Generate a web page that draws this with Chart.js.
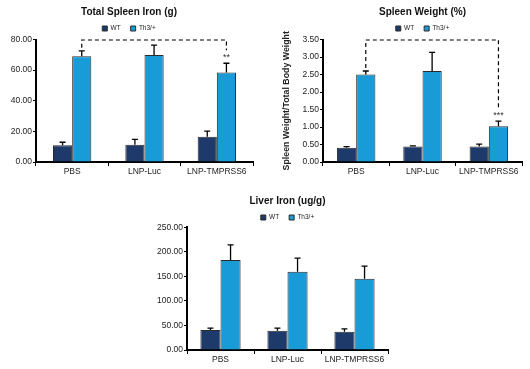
<!DOCTYPE html>
<html>
<head>
<meta charset="utf-8">
<script src="https://cdn.jsdelivr.net/npm/chart.js@4"></script>
<style>
  html, body { margin: 0; padding: 0; background: #fff; overflow: hidden; }
  body { width: 530px; height: 369px; position: relative; }
  canvas { position: absolute; }
</style>
</head>
<body>
<canvas id="c1" width="250" height="180" style="left:5px;top:0px"></canvas>
<canvas id="c2" width="265" height="180" style="left:265px;top:0px"></canvas>
<canvas id="c3" width="260" height="184" style="left:150px;top:185px"></canvas>
<script>
const groups = ['PBS', 'LNP-Luc', 'LNP-TMPRSS6'];
const seriesNames = ['WT', 'Th3/+'];

// Total spleen iron (g)
const spleenIronWT = [10.9, 11.3, 16.5];
const spleenIronTh3 = [69.1, 69.8, 58.5];
const spleenIronErrWT = [2.0, 3.5, 3.7];
const spleenIronErrTh3 = [3.5, 6.5, 6.0];

// Spleen weight (%)
const spleenWtWT = [0.41, 0.44, 0.44];
const spleenWtTh3 = [2.50, 2.60, 1.02];
const spleenWtErrWT = [0.03, 0.02, 0.07];
const spleenWtErrTh3 = [0.10, 0.53, 0.15];

// Liver iron (ug/g)
const liverWT = [40.5, 39.0, 37.0];
const liverTh3 = [183.5, 159.5, 145.0];
const liverErrWT = [4.0, 5.5, 6.0];
const liverErrTh3 = [30.5, 27.5, 26.0];

const colWT = '#1d3a6b';
const colTh3 = '#199bd8';
const fontFam = '"Liberation Sans", Arial, sans-serif';

// error bars (upward only) + significance bracket
const errorBars = {
  id: 'errorBars',
  afterDatasetsDraw(chart) {
    const ctx = chart.ctx;
    const y = chart.scales.y;
    ctx.save();
    ctx.strokeStyle = '#000';
    ctx.lineWidth = 1.3;
    chart.data.datasets.forEach((ds, i) => {
      chart.getDatasetMeta(i).data.forEach((bar, j) => {
        const top = y.getPixelForValue(ds.data[j] + ds.errors[j]);
        ctx.beginPath();
        ctx.moveTo(bar.x, bar.y);
        ctx.lineTo(bar.x, top);
        ctx.moveTo(bar.x - 3, top);
        ctx.lineTo(bar.x + 3, top);
        ctx.stroke();
      });
    });
    const br = chart.options.plugins.bracket;
    if (br && br.label) {
      const ds = chart.data.datasets[1];
      const bars = chart.getDatasetMeta(1).data;
      const capL = y.getPixelForValue(ds.data[br.from] + ds.errors[br.from]);
      const capR = y.getPixelForValue(ds.data[br.to] + ds.errors[br.to]);
      const yTop = chart.chartArea.top + 0.5;
      const xL = bars[br.from].x, xR = bars[br.to].x;
      ctx.setLineDash([4, 3]);
      ctx.lineWidth = 1.2;
      ctx.beginPath();
      ctx.moveTo(xL, capL - 3);
      ctx.lineTo(xL, yTop);
      ctx.lineTo(xR, yTop);
      ctx.lineTo(xR, capR - 13);
      ctx.stroke();
      ctx.setLineDash([]);
      ctx.fillStyle = '#333';
      ctx.font = '9px ' + fontFam;
      ctx.textAlign = 'center';
      ctx.textBaseline = 'middle';
      ctx.fillText(br.label, xR, capR - 6);
    }
    ctx.restore();
  }
};

function makeChart(id, cfg) {
  return new Chart(document.getElementById(id), {
    type: 'bar',
    data: {
      labels: groups,
      datasets: [
        { label: seriesNames[0], data: cfg.wt, errors: cfg.errWT, backgroundColor: colWT },
        { label: seriesNames[1], data: cfg.th3, errors: cfg.errTh3, backgroundColor: colTh3 }
      ]
    },
    options: {
      responsive: false,
      animation: false,
      layout: { padding: { left: 0, right: cfg.padRight, top: 0, bottom: 0 } },
      datasets: {
        bar: {
          categoryPercentage: cfg.catPct,
          barPercentage: 1,
          borderColor: '#2b2b2b',
          borderWidth: 1
        }
      },
      scales: {
        x: {
          afterFit: s => { s.height = cfg.xHeight; },
          border: { color: '#000', width: 2 },
          grid: { display: true, drawOnChartArea: false, color: '#000', tickLength: 4 },
          ticks: { color: '#222', padding: 1, font: { family: fontFam, size: 8.5 } }
        },
        y: {
          min: 0,
          max: cfg.max,
          afterFit: s => { s.width = cfg.yWidth; },
          border: { color: '#000', width: 2 },
          grid: { display: true, drawOnChartArea: false, color: '#000', tickLength: 3 },
          ticks: {
            stepSize: cfg.step,
            color: '#222',
            padding: 1,
            font: { family: fontFam, size: 8.5 },
            callback: v => v.toFixed(2)
          },
          title: cfg.yTitle ? {
            display: true,
            text: cfg.yTitle,
            color: '#222',
            padding: { top: 16, bottom: 0 },
            font: { family: fontFam, size: 8.8, weight: 'bold' }
          } : { display: false }
        }
      },
      plugins: {
        title: {
          display: true,
          text: cfg.title,
          color: '#111',
          fullSize: cfg.fullSize,
          padding: { top: cfg.titleTop, bottom: cfg.titleBottom },
          font: { family: fontFam, size: 10, weight: 'bold' }
        },
        legend: {
          display: true,
          fullSize: cfg.fullSize,
          maxHeight: cfg.legendH,
          labels: {
            color: '#222',
            boxWidth: 5,
            boxHeight: 5,
            padding: 10,
            font: { family: fontFam, size: 6.5 }
          }
        },
        tooltip: { enabled: false },
        bracket: { from: 0, to: 2, label: cfg.stars }
      }
    },
    plugins: [errorBars]
  });
}

makeChart('c1', {
  title: 'Total Spleen Iron (g)',
  wt: spleenIronWT, th3: spleenIronTh3, errWT: spleenIronErrWT, errTh3: spleenIronErrTh3,
  max: 80, step: 20, stars: '**',
  yWidth: 31, xHeight: 18, padRight: 2, catPct: 0.53,
  fullSize: true, titleTop: 6.5, titleBottom: -3.25, legendH: 24.25
});

makeChart('c2', {
  title: 'Spleen Weight (%)',
  yTitle: 'Spleen Weight/Total Body Weight',
  wt: spleenWtWT, th3: spleenWtTh3, errWT: spleenWtErrWT, errTh3: spleenWtErrTh3,
  max: 3.5, step: 0.5, stars: '***',
  yWidth: 58, xHeight: 18, padRight: 8, catPct: 0.58,
  fullSize: false, titleTop: 6.5, titleBottom: -3.25, legendH: 24.25
});

makeChart('c3', {
  title: 'Liver Iron (ug/g)',
  wt: liverWT, th3: liverTh3, errWT: liverErrWT, errTh3: liverErrTh3,
  max: 250, step: 50, stars: '',
  yWidth: 37, xHeight: 19, padRight: 22, catPct: 0.6,
  fullSize: false, titleTop: 10.5, titleBottom: -3.25, legendH: 23
});
</script>
</body>
</html>
